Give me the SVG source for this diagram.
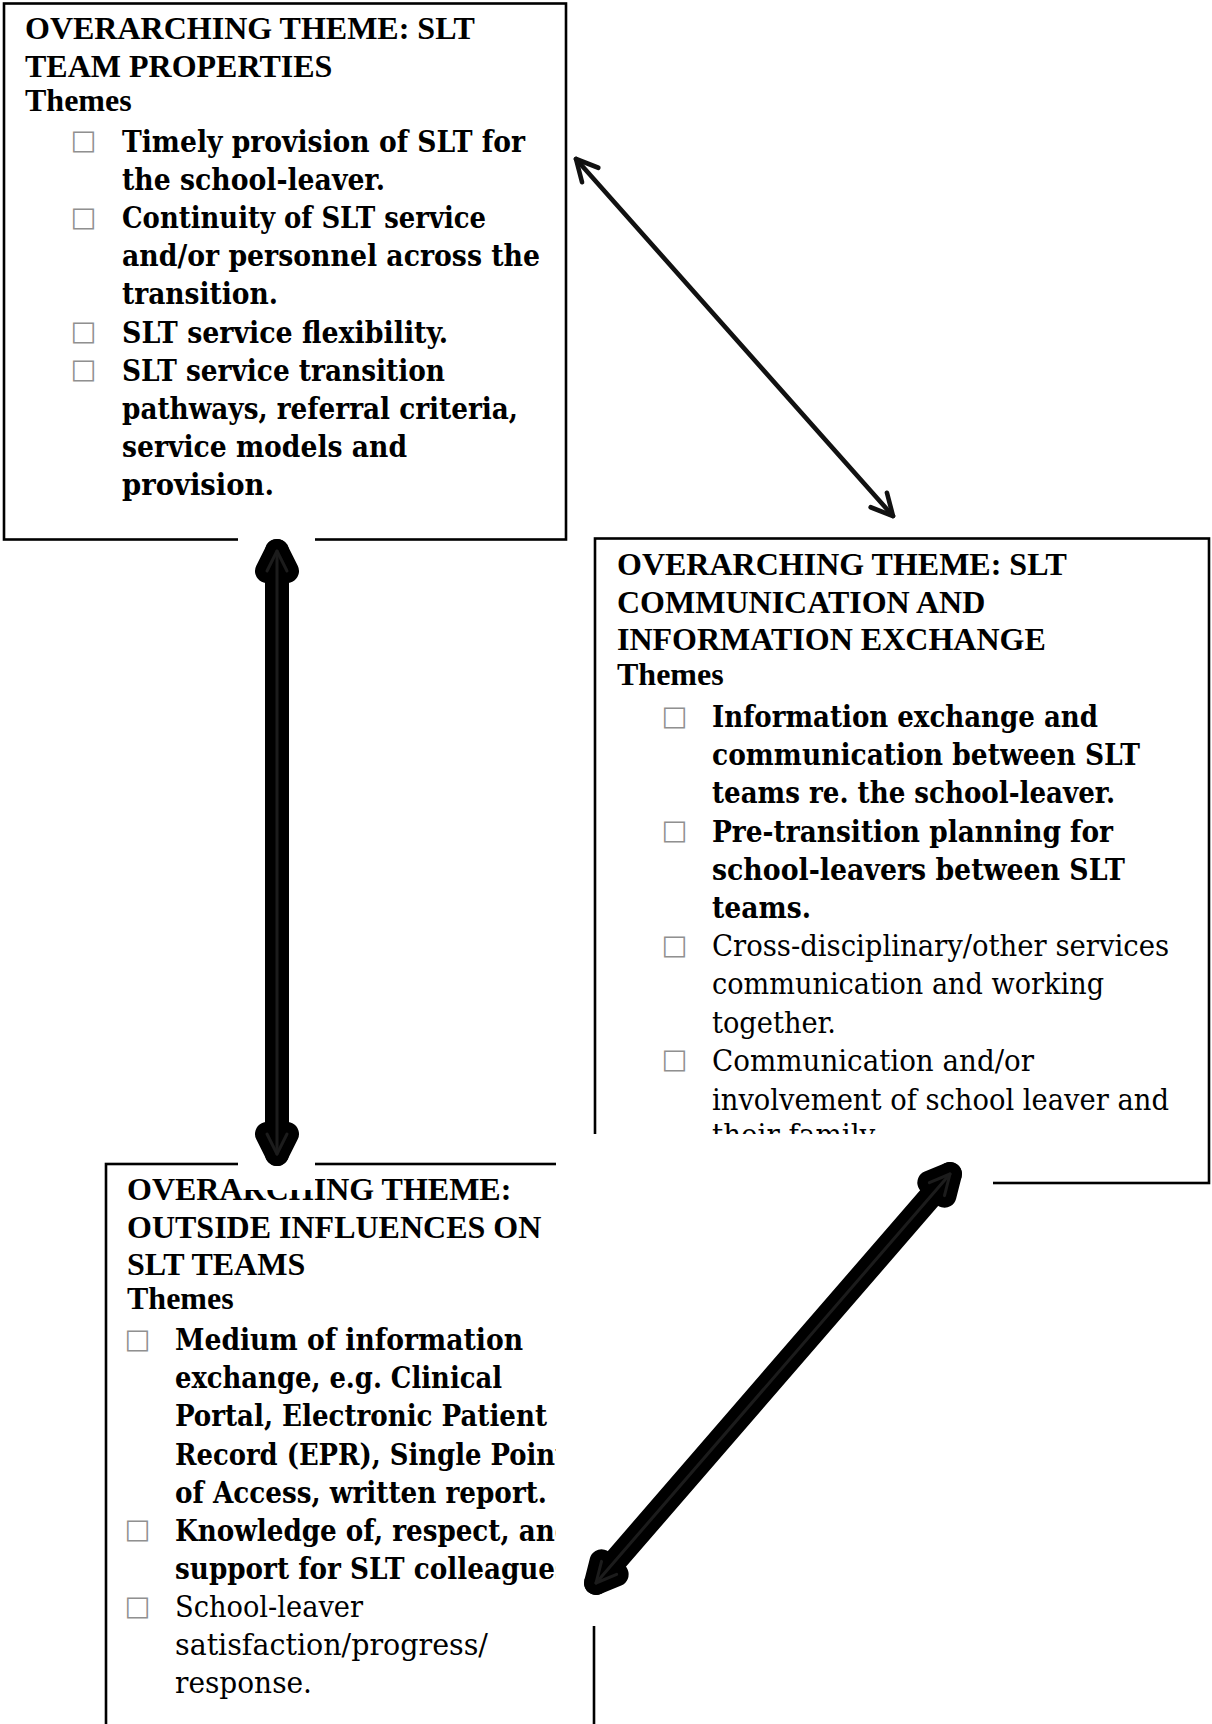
<svg xmlns="http://www.w3.org/2000/svg" width="1212" height="1724" viewBox="0 0 1212 1724">
<style>
.box{fill:#fff;stroke:#000;stroke-width:2.6}
.t{font-family:"Liberation Serif","Times New Roman",serif;font-weight:bold;font-size:32px;fill:#000}
.b{font-family:"DejaVu Serif Condensed","DejaVu Serif",serif;font-weight:bold;font-size:30px;fill:#000}
.r{font-family:"DejaVu Serif Condensed","DejaVu Serif",serif;font-weight:normal;font-size:30px;fill:#000}
.bul{font-family:"DejaVu Sans",sans-serif;font-size:27.5px;fill:#909090}
.mask{fill:#fff;stroke:none}
.thin{fill:none;stroke:#111;stroke-width:4.6;stroke-linecap:round}
.thickOut{fill:none;stroke:#000;stroke-width:24;stroke-linecap:round;stroke-linejoin:round}
.thickIn{fill:none;stroke:#1c1c1c;stroke-width:3;stroke-linecap:round;stroke-linejoin:round}
</style>
<defs>
<marker id="thinHead" viewBox="-30 -16 36 32" refX="0" refY="0" markerWidth="36" markerHeight="32" markerUnits="userSpaceOnUse" orient="auto-start-reverse">
<path d="M-21.4,-10.9 L0,0 L-21.4,10.9" fill="none" stroke="#111" stroke-width="4.6" stroke-linecap="round" stroke-linejoin="round"/>
</marker>
<marker id="thickHeadOut" viewBox="-40 -30 56 60" refX="0" refY="0" markerWidth="56" markerHeight="60" markerUnits="userSpaceOnUse" orient="auto-start-reverse">
<path d="M-20,-10 L0,0 L-20,10" fill="none" stroke="#000" stroke-width="24" stroke-linecap="round" stroke-linejoin="round"/>
</marker>
<marker id="thickHeadIn" viewBox="-40 -30 56 60" refX="0" refY="0" markerWidth="56" markerHeight="60" markerUnits="userSpaceOnUse" orient="auto-start-reverse">
<path d="M-20,-10 L0,0 L-20,10" fill="none" stroke="#1c1c1c" stroke-width="3" stroke-linecap="round" stroke-linejoin="round"/>
</marker>
</defs>
<rect width="1212" height="1724" fill="#fff"/>

<g id="node-slt-team-properties">
<rect class="box" x="4" y="3.5" width="562" height="536"/>
<text class="t" x="25" y="39">OVERARCHING THEME: SLT</text>
<text class="t" x="25" y="77">TEAM PROPERTIES</text>
<text class="t" x="25" y="111">Themes</text>
<text class="bul" x="70.5" y="149.2">□</text>
<text class="b" x="122" y="151.7" textLength="403" lengthAdjust="spacingAndGlyphs">Timely provision of SLT for</text>
<text class="b" x="122" y="189.9" textLength="263" lengthAdjust="spacingAndGlyphs">the school-leaver.</text>
<text class="bul" x="70.5" y="225.5">□</text>
<text class="b" x="122" y="228" textLength="364" lengthAdjust="spacingAndGlyphs">Continuity of SLT service</text>
<text class="b" x="122" y="266.1" textLength="418" lengthAdjust="spacingAndGlyphs">and/or personnel across the</text>
<text class="b" x="122" y="304.3" textLength="156" lengthAdjust="spacingAndGlyphs">transition.</text>
<text class="bul" x="70.5" y="340">□</text>
<text class="b" x="122" y="342.5" textLength="326" lengthAdjust="spacingAndGlyphs">SLT service flexibility.</text>
<text class="bul" x="70.5" y="378.1">□</text>
<text class="b" x="122" y="380.6" textLength="323" lengthAdjust="spacingAndGlyphs">SLT service transition</text>
<text class="b" x="122" y="418.8" textLength="396" lengthAdjust="spacingAndGlyphs">pathways, referral criteria,</text>
<text class="b" x="122" y="456.9" textLength="285" lengthAdjust="spacingAndGlyphs">service models and</text>
<text class="b" x="122" y="495" textLength="152" lengthAdjust="spacingAndGlyphs">provision.</text>
</g>

<g id="node-slt-communication">
<rect class="box" x="595" y="538.5" width="614" height="644.5"/>
<text class="t" x="617" y="575">OVERARCHING THEME: SLT</text>
<text class="t" x="617" y="612.5">COMMUNICATION AND</text>
<text class="t" x="617" y="650">INFORMATION EXCHANGE</text>
<text class="t" x="617" y="684.5">Themes</text>
<text class="bul" x="661.5" y="724.5">□</text>
<text class="b" x="712" y="727" textLength="386" lengthAdjust="spacingAndGlyphs">Information exchange and</text>
<text class="b" x="712" y="765.2" textLength="428" lengthAdjust="spacingAndGlyphs">communication between SLT</text>
<text class="b" x="712" y="803.4" textLength="403" lengthAdjust="spacingAndGlyphs">teams re. the school-leaver.</text>
<text class="bul" x="661.5" y="839.1">□</text>
<text class="b" x="712" y="841.6" textLength="401" lengthAdjust="spacingAndGlyphs">Pre-transition planning for</text>
<text class="b" x="712" y="879.8" textLength="413" lengthAdjust="spacingAndGlyphs">school-leavers between SLT</text>
<text class="b" x="712" y="918" textLength="99" lengthAdjust="spacingAndGlyphs">teams.</text>
<text class="bul" x="661.5" y="953.7">□</text>
<text class="r" x="712" y="956.2" textLength="457" lengthAdjust="spacingAndGlyphs">Cross-disciplinary/other services</text>
<text class="r" x="712" y="994.4" textLength="392" lengthAdjust="spacingAndGlyphs">communication and working</text>
<text class="r" x="712" y="1032.6" textLength="124" lengthAdjust="spacingAndGlyphs">together.</text>
<text class="bul" x="661.5" y="1068.3">□</text>
<text class="r" x="712" y="1070.8" textLength="322" lengthAdjust="spacingAndGlyphs">Communication and/or</text>
<text class="r" x="712" y="1109.5" textLength="457" lengthAdjust="spacingAndGlyphs">involvement of school leaver and</text>
<text class="r" x="712" y="1145" textLength="168" lengthAdjust="spacingAndGlyphs">their family.</text>
</g>

<g id="node-outside-influences">
<rect class="box" x="106" y="1164" width="488" height="700"/>
<text class="t" x="127" y="1200">OVERARCHING THEME:</text>
<text class="t" x="127" y="1237.5">OUTSIDE INFLUENCES ON</text>
<text class="t" x="127" y="1275">SLT TEAMS</text>
<text class="t" x="127" y="1309">Themes</text>
<text class="bul" x="124.5" y="1347.5">□</text>
<text class="b" x="175" y="1350" textLength="348" lengthAdjust="spacingAndGlyphs">Medium of information</text>
<text class="b" x="175" y="1388.2" textLength="327" lengthAdjust="spacingAndGlyphs">exchange, e.g. Clinical</text>
<text class="b" x="175" y="1426.3" textLength="372" lengthAdjust="spacingAndGlyphs">Portal, Electronic Patient</text>
<text class="b" x="175" y="1464.5" textLength="392" lengthAdjust="spacingAndGlyphs">Record (EPR), Single Point</text>
<text class="b" x="175" y="1502.6" textLength="372" lengthAdjust="spacingAndGlyphs">of Access, written report.</text>
<text class="bul" x="124.5" y="1538.3">□</text>
<text class="b" x="175" y="1540.8" textLength="398" lengthAdjust="spacingAndGlyphs">Knowledge of, respect, and</text>
<text class="b" x="175" y="1578.9" textLength="404" lengthAdjust="spacingAndGlyphs">support for SLT colleagues.</text>
<text class="bul" x="124.5" y="1614.5">□</text>
<text class="r" x="175" y="1617" textLength="188" lengthAdjust="spacingAndGlyphs">School-leaver</text>
<text class="r" x="175" y="1655.2" textLength="313" lengthAdjust="spacingAndGlyphs">satisfaction/progress/</text>
<text class="r" x="175" y="1693.3" textLength="137" lengthAdjust="spacingAndGlyphs">response.</text>
</g>

<g id="connectors">
<line class="thin" x1="576" y1="159" x2="893" y2="516" marker-start="url(#thinHead)" marker-end="url(#thinHead)"/>
<rect class="mask" x="238" y="504" width="77" height="686"/>
<line class="thickOut" x1="277" y1="551" x2="277" y2="1154" marker-start="url(#thickHeadOut)" marker-end="url(#thickHeadOut)"/>
<line class="thickIn" x1="277" y1="551" x2="277" y2="1154" marker-start="url(#thickHeadIn)" marker-end="url(#thickHeadIn)"/>
<rect class="mask" x="556" y="1134" width="437" height="492"/>
<line class="thickOut" x1="950" y1="1174" x2="596" y2="1583" marker-start="url(#thickHeadOut)" marker-end="url(#thickHeadOut)"/>
<line class="thickIn" x1="950" y1="1174" x2="596" y2="1583" marker-start="url(#thickHeadIn)" marker-end="url(#thickHeadIn)"/>
</g>
</svg>
